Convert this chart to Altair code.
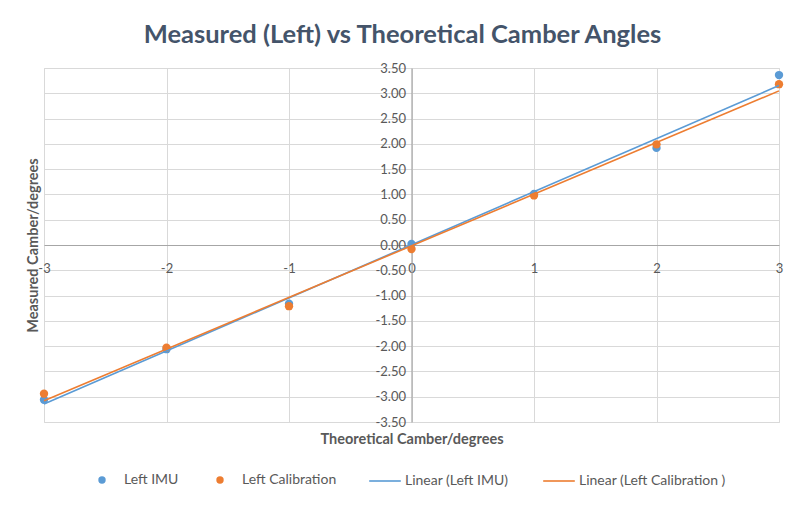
import altair as alt
import pandas as pd

# ---- data ----
x_theoretical = [-3, -2, -1, 0, 1, 2, 3]
imu_measured = [-3.06, -2.06, -1.16, 0.02, 1.01, 1.92, 3.36]
cal_measured = [-2.94, -2.03, -1.21, -0.08, 0.98, 1.99, 3.18]
series_names = ["Left IMU", "Left Calibration"]
trend_names = ["Linear (Left IMU)", "Linear (Left Calibration )"]
x_ticks = [-3, -2, -1, 0, 1, 2, 3]
y_ticks = [-3.5, -3.0, -2.5, -2.0, -1.5, -1.0, -0.5, 0.0, 0.5, 1.0, 1.5, 2.0, 2.5, 3.0, 3.5]

point_colors = ["#5B9BD5", "#ED7D31"]
line_colors = ["#5B9BD5", "#ED7D31"]

rows = []
for name, vals in zip(series_names, [imu_measured, cal_measured]):
    for xv, yv in zip(x_theoretical, vals):
        rows.append({"x": xv, "y": yv, "series": name})
df = pd.DataFrame(rows)

FONT = "Lato"
GREY = "#595959"
W, H = 735, 354
minus_fix = "replace(datum.label, '\u2212', '-')"

x_axis = alt.Axis(
    values=x_ticks, orient="bottom", offset=-H / 2, grid=True, gridColor="#D9D9D9",
    domainColor="#A6A6A6", domainWidth=1.2, ticks=False, labelFlush=False,
    labelFont=FONT, labelFontSize=13, labelColor=GREY, labelPadding=17,
    labelExpr=minus_fix,
    title="Theoretical Camber/degrees", titleFont=FONT, titleFontSize=14.5,
    titleFontWeight="bold", titleColor=GREY, titleX=W / 2, titleY=194,
    titleBaseline="middle", titleAlign="center",
)
y_axis = alt.Axis(
    values=y_ticks, format=".2f", orient="left", offset=-W / 2, grid=True,
    gridColor="#D9D9D9", domainColor="#A6A6A6", domainWidth=1.2, ticks=False,
    labelFlush=False, labelOverlap=False,
    labelFont=FONT, labelFontSize=13, labelColor=GREY, labelPadding=6,
    labelExpr=minus_fix,
    title="Measured Camber/degrees", titleFont=FONT, titleFontSize=14.5,
    titleFontWeight="bold", titleColor=GREY, titleX=-(W / 2) - 11, titleY=H / 2,
    titleBaseline="middle", titleAlign="center", titleAngle=270,
)

xs = alt.Scale(domain=[-3, 3], nice=False, zero=False)
ys = alt.Scale(domain=[-3.5, 3.5], nice=False, zero=False)

point_legend = alt.Legend(
    title=None, orient="none", legendX=51, legendY=405, direction="horizontal",
    labelFont=FONT, labelFontSize=14, labelColor=GREY, columnPadding=34,
    labelOffset=15, symbolType="circle", symbolSize=55, symbolStrokeWidth=0,
)
line_legend = alt.Legend(
    title=None, orient="none", legendX=324, legendY=396, direction="horizontal",
    labelFont=FONT, labelFontSize=14, labelColor=GREY, columnPadding=30,
    labelOffset=3, symbolType="stroke", symbolSize=1000, symbolStrokeWidth=1.6,
)

points = alt.Chart(df).mark_circle(opacity=1, size=70).encode(
    x=alt.X("x:Q", scale=xs, axis=x_axis),
    y=alt.Y("y:Q", scale=ys, axis=y_axis),
    color=alt.Color(
        "series:N", scale=alt.Scale(domain=series_names, range=point_colors), legend=point_legend
    ),
)

lines = (
    alt.Chart(df)
    .transform_regression("x", "y", groupby=["series"], extent=[-3, 3])
    .transform_calculate(
        trend=f"datum.series == '{series_names[0]}' ? '{trend_names[0]}' : '{trend_names[1]}'"
    )
    .mark_line(strokeWidth=1.6)
    .encode(
        x=alt.X("x:Q", scale=xs, axis=x_axis),
        y=alt.Y("y:Q", scale=ys, axis=y_axis),
        stroke=alt.Stroke(
            "trend:N", scale=alt.Scale(domain=trend_names, range=line_colors), legend=line_legend
        ),
    )
)

chart = (
    alt.layer(points, lines)
    .properties(
        width=W,
        height=H,
        title=alt.Title(
            "Measured (Left) vs Theoretical Camber Angles", font=FONT, fontSize=25.5,
            fontWeight="bold", color="#44546A", offset=14, anchor="middle", dx=-9,
        ),
        autosize=alt.AutoSizeParams(type="none"),
        padding={"left": 36, "top": 60, "right": 13, "bottom": 76},
    )
    .configure_view(stroke=None)
    .configure(background="white")
)

chart.save("out.html", embed_options={"renderer": "svg", "actions": False})
